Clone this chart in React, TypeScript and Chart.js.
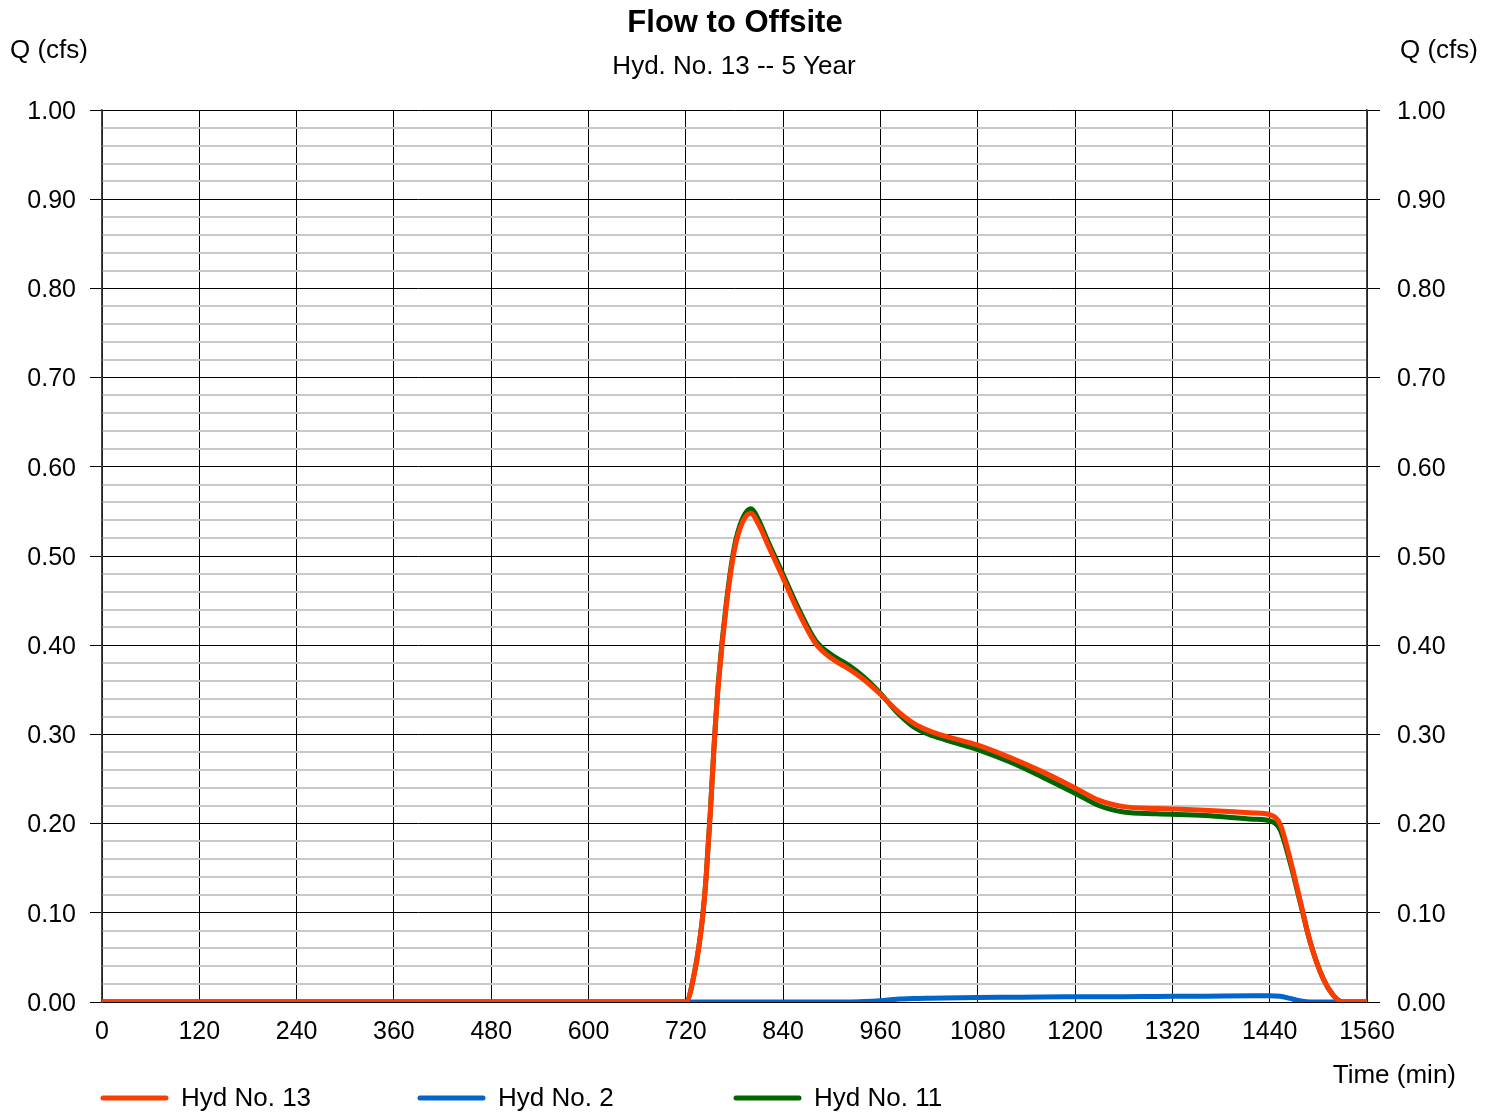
import React, { useEffect, useRef } from "react";
import { Chart, registerables } from "chart.js";

Chart.register(...registerables);

const chartTitle = "Flow to Offsite";
const chartSubtitle = "Hyd. No. 13 -- 5 Year";
const yAxisLabel = "Q (cfs)";
const xAxisLabel = "Time (min)";
const seriesNames = ["Hyd No. 13", "Hyd No. 2", "Hyd No. 11"];
const seriesColors = ["#ff3c00", "#0066cc", "#006600"];

const times = [0, 720, 730, 740, 745, 750, 755, 760, 770, 780, 790, 800, 810, 820, 840, 860, 880, 900, 920, 940, 960, 980, 1000, 1020, 1040, 1080, 1120, 1160, 1200, 1230, 1260, 1300, 1360, 1420, 1440, 1453, 1465, 1477, 1490, 1506, 1518, 1530, 1560];

const hyd13 = [0, 0, 0.03, 0.09, 0.14, 0.21, 0.29, 0.355, 0.445, 0.507, 0.538, 0.548, 0.535, 0.515, 0.475, 0.435, 0.402, 0.385, 0.374, 0.361, 0.345, 0.327, 0.313, 0.304, 0.298, 0.288, 0.274, 0.258, 0.24, 0.226, 0.219, 0.217, 0.215, 0.212, 0.21, 0.199, 0.161, 0.116, 0.067, 0.026, 0.008, 0, 0];

const hyd2 = [0, 0, 0, 0, 0, 0, 0, 0, 0, 0, 0, 0, 0, 0, 0, 0, 0, 0, 0, 0.0005, 0.0015, 0.003, 0.0038, 0.0042, 0.0045, 0.005, 0.0053, 0.0056, 0.0058, 0.006, 0.006, 0.0062, 0.0065, 0.007, 0.007, 0.0065, 0.004, 0.0015, 0, 0, 0, 0, 0];

const hyd11 = [0, 0, 0.03, 0.09, 0.14, 0.21, 0.29, 0.357, 0.448, 0.511, 0.542, 0.553, 0.54, 0.519, 0.479, 0.439, 0.405, 0.389, 0.378, 0.364, 0.346, 0.325, 0.309, 0.3, 0.294, 0.283, 0.269, 0.252, 0.234, 0.22, 0.213, 0.211, 0.209, 0.205, 0.203, 0.193, 0.157, 0.114, 0.067, 0.026, 0.008, 0, 0];

const xTickStep = 120;
const xMax = 1560;
const yMinorStep = 0.02;

const FONT = "'Liberation Sans', Arial, sans-serif";

const isMajor = (v: number) => Math.round(v * 100) % 10 === 0;

const textPlugin = {
  id: "textPlugin",
  afterDraw(chart: any) {
    const ctx = chart.ctx;
    ctx.save();
    ctx.fillStyle = "#000";
    ctx.textBaseline = "middle";
    ctx.textAlign = "center";
    ctx.font = `bold 31px ${FONT}`;
    ctx.fillText(chartTitle, 735, 23);
    ctx.font = `26px ${FONT}`;
    ctx.fillText(chartSubtitle, 734, 67);
    ctx.textAlign = "left";
    ctx.fillText(yAxisLabel, 10, 51);
    ctx.textAlign = "right";
    ctx.fillText(yAxisLabel, 1478, 51);
    ctx.fillText(xAxisLabel, 1456, 1076);
    const legendX = [100, 417, 733];
    ctx.textAlign = "left";
    seriesNames.forEach((name, i) => {
      const x = legendX[i];
      ctx.strokeStyle = seriesColors[i];
      ctx.lineWidth = 5;
      ctx.lineCap = "round";
      ctx.beginPath();
      ctx.moveTo(x + 3, 1098);
      ctx.lineTo(x + 66, 1098);
      ctx.stroke();
      ctx.fillStyle = "#000";
      ctx.fillText(name, x + 81, 1099);
    });
    ctx.restore();
  },
};

export default function App() {
  const ref = useRef<HTMLCanvasElement>(null);
  useEffect(() => {
    if (!ref.current) return;
    const mk = (vals: number[]) => times.map((t, i) => ({ x: t, y: vals[i] }));
    const tickFont = { family: FONT, size: 25 };
    const chart = new Chart(ref.current, {
      type: "line",
      data: {
        datasets: [
          { label: seriesNames[0], data: mk(hyd13), borderColor: seriesColors[0], borderWidth: 5, pointRadius: 0, cubicInterpolationMode: "monotone", borderCapStyle: "round", borderJoinStyle: "round" },
          { label: seriesNames[1], data: mk(hyd2), borderColor: seriesColors[1], borderWidth: 5, pointRadius: 0, cubicInterpolationMode: "monotone", borderCapStyle: "round", borderJoinStyle: "round" },
          { label: seriesNames[2], data: mk(hyd11), borderColor: seriesColors[2], borderWidth: 5, pointRadius: 0, cubicInterpolationMode: "monotone", borderCapStyle: "round", borderJoinStyle: "round" },
        ],
      },
      options: {
        responsive: false,
        animation: false,
        devicePixelRatio: 1,
        layout: { padding: { top: 110, left: 0, right: 0, bottom: 0 } },
        plugins: { legend: { display: false }, title: { display: false }, tooltip: { enabled: false } },
        scales: {
          x: {
            type: "linear",
            min: 0,
            max: xMax,
            afterFit: (s: any) => { s.height = 110; },
            ticks: {
              stepSize: xTickStep,
              color: "#000",
              font: tickFont,
              padding: 15,
              maxRotation: 0,
              autoSkip: false,
              callback: (v: any) => String(Math.round(Number(v))),
            },
            grid: { color: "#000", lineWidth: 1, tickLength: 0, drawTicks: false },
            border: { color: "#000", width: 1 },
          },
          y: {
            type: "linear",
            position: "left",
            min: 0,
            max: 1,
            afterFit: (s: any) => { s.width = 102; },
            ticks: {
              stepSize: yMinorStep,
              autoSkip: false,
              color: "#000",
              font: tickFont,
              padding: 14,
              labelOffset: 2,
              callback: (v: any) => (isMajor(Number(v)) ? Number(v).toFixed(2) : ""),
            },
            grid: {
              color: (c: any) => (isMajor(c.tick.value) ? "#000" : "#c8c8c8"),
              lineWidth: (c: any) => (isMajor(c.tick.value) ? 1 : 2),
              tickColor: (c: any) => (isMajor(c.tick.value) ? "#000" : "rgba(0,0,0,0)"),
              tickWidth: 1,
              tickLength: 12,
            },
            border: { color: "#444", width: 1.5 },
          },
          y2: {
            type: "linear",
            position: "right",
            min: 0,
            max: 1,
            afterFit: (s: any) => { s.width = 129; },
            ticks: {
              stepSize: yMinorStep,
              autoSkip: false,
              color: "#000",
              font: tickFont,
              padding: 17,
              labelOffset: 2,
              callback: (v: any) => (isMajor(Number(v)) ? Number(v).toFixed(2) : ""),
            },
            grid: {
              drawOnChartArea: false,
              tickColor: (c: any) => (isMajor(c.tick.value) ? "#000" : "rgba(0,0,0,0)"),
              tickWidth: 1,
              tickLength: 13,
            },
            border: { color: "#444", width: 1.5 },
          },
        },
      },
      plugins: [textPlugin],
    } as any);
    return () => chart.destroy();
  }, []);
  return (
    <div style={{ position: "absolute", left: 0, top: 0, width: 1496, height: 1112, background: "#fff" }}>
      <canvas ref={ref} width={1496} height={1112} style={{ display: "block" }} />
    </div>
  );
}
